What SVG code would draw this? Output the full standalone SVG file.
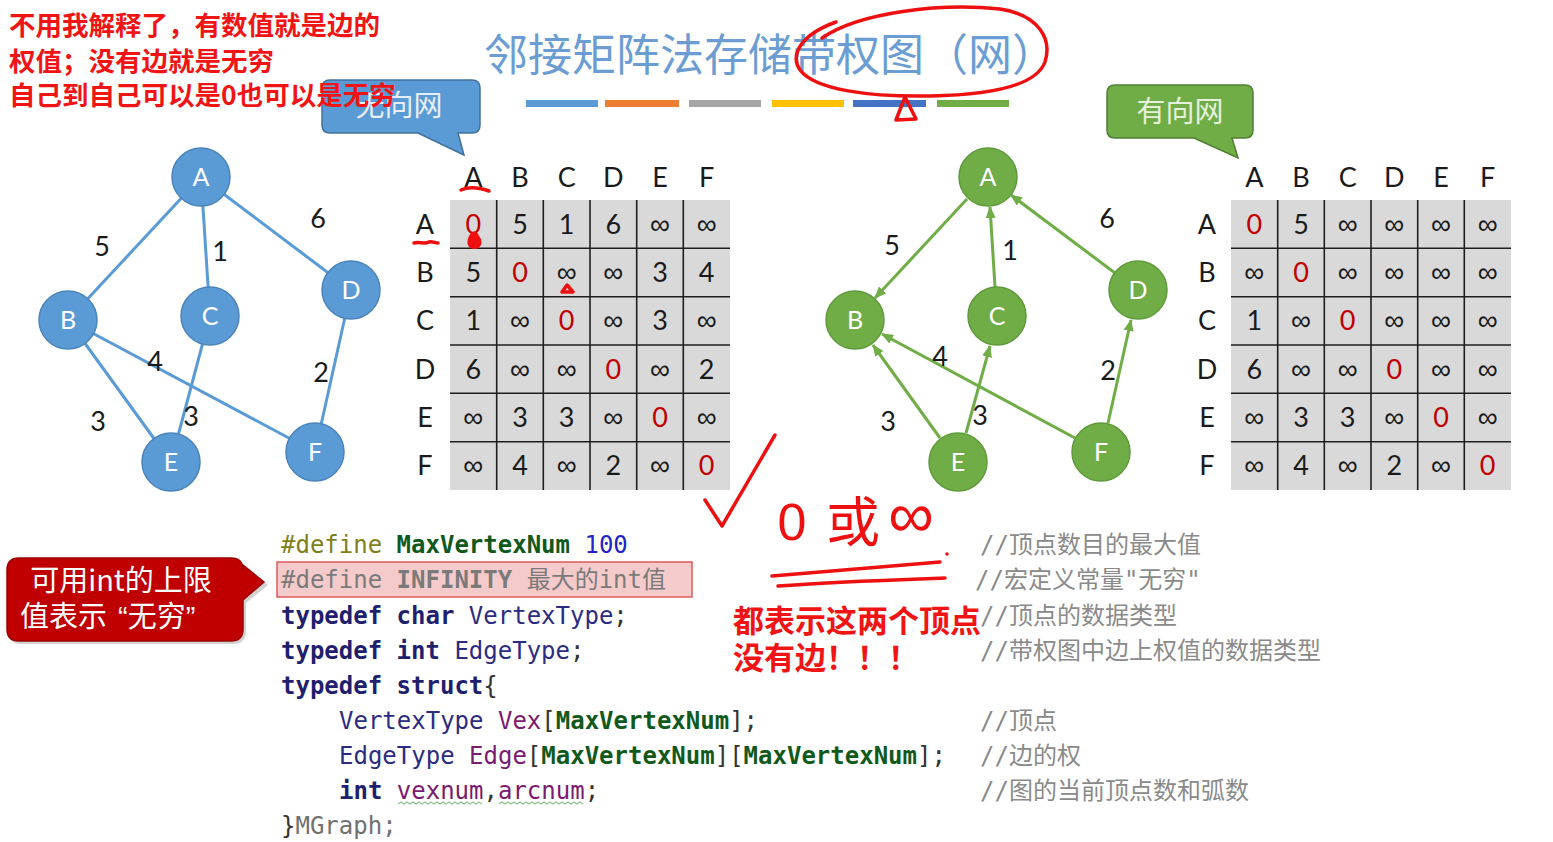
<svg xmlns="http://www.w3.org/2000/svg" width="1553" height="842" viewBox="0 0 1553 842">
<style>
.note{font-family:"Noto Sans CJK SC",sans-serif;font-weight:bold;fill:#f01414}
.title{font-family:"Noto Sans CJK SC",sans-serif;font-size:44px;fill:#6b9dd2}
.lbl{font-family:Lato,"Liberation Sans",sans-serif;font-size:27px;fill:#1a1a1a;text-anchor:middle}
.nodeb circle{fill:#5b9bd5;stroke:#4a84bb;stroke-width:1.5}
.nodeg circle{fill:#70ad47;stroke:#5f9a3b;stroke-width:1.5}
.nt{font-family:Lato,"Liberation Sans",sans-serif;font-size:25px;fill:#ffffff;text-anchor:middle}
.m{font-family:Lato,"Liberation Sans",sans-serif;font-size:27px;fill:#1a1a1a;text-anchor:middle}
.z{fill:#c00000}
.i{font-family:"Liberation Sans",sans-serif;font-size:28px}
.grid{stroke:#1e1e1e;stroke-width:1.6}
.code{font-family:"DejaVu Sans Mono","Noto Sans CJK SC",monospace;font-size:24px}
.cm{font-family:"DejaVu Sans Mono","Noto Sans CJK SC",monospace;font-size:24px;fill:#8a8a8a}
.kw{font-weight:bold;fill:#1f1f6e}
.ty{fill:#2b2b82}
.pu{fill:#7a1a70}
.gr{font-weight:bold;fill:#11591b}
.ol{fill:#7f7f1a}
.dk{fill:#333333}
.hand{fill:none;stroke:#ee1010;stroke-width:3.5;stroke-linecap:round;stroke-linejoin:round}
</style>
<defs>
<marker id="arrG" markerUnits="userSpaceOnUse" markerWidth="12" markerHeight="10" refX="11" refY="5" orient="auto">
<path d="M0,0 L12,5 L0,10 z" fill="#70ad47"/>
</marker>
</defs>
<rect width="1553" height="842" fill="#ffffff"/>

<!-- title -->
<g id="title">
<text class="title" x="484" y="71">邻接矩阵法存储带权图（网）</text>
<rect x="526" y="100" width="72" height="7" fill="#5b9bd5"/>
<rect x="605" y="100" width="74" height="7" fill="#ed7d31"/>
<rect x="689" y="100" width="72" height="7" fill="#a5a5a5"/>
<rect x="772" y="100" width="72" height="7" fill="#ffc000"/>
<rect x="853" y="100" width="73" height="7" fill="#4472c4"/>
<rect x="937" y="100" width="72" height="7" fill="#70ad47"/>
</g>

<!-- callouts -->
<g id="callout-undirected">
<path d="M330,80 H472 Q480,80 480,88 V125 Q480,133 472,133 H458 L464,155 L418,133 H330 Q322,133 322,125 V88 Q322,80 330,80 Z" fill="#5b9bd5" stroke="#41719c" stroke-width="1.5"/>
<text x="399" y="116" font-family="Noto Sans CJK SC,sans-serif" font-size="29" fill="#e6eef8" text-anchor="middle">无向网</text>
</g>
<g id="callout-directed">
<path d="M1115,85 H1245 Q1253,85 1253,93 V130 Q1253,138 1245,138 H1232 L1238,158 L1194,138 H1115 Q1107,138 1107,130 V93 Q1107,85 1115,85 Z" fill="#70ad47" stroke="#507e32" stroke-width="1.5"/>
<text x="1180" y="122" font-family="Noto Sans CJK SC,sans-serif" font-size="29" fill="#e6f0dc" text-anchor="middle">有向网</text>
</g>

<!-- top-left notes -->
<g id="note-top">
<text class="note" font-size="26.5" x="9" y="35">不用我解释了，有数值就是边的</text>
<text class="note" font-size="26.5" x="9" y="71">权值；没有边就是无穷</text>
<text class="note" font-size="26.5" x="9" y="105">自己到自己可以是0也可以是无穷</text>
</g>

<!-- left graph edges -->
<g id="edges-left" stroke="#5b9bd5" stroke-width="3" fill="none">
<line x1="201" y1="177" x2="68" y2="320"/>
<line x1="201" y1="177" x2="210" y2="316"/>
<line x1="201" y1="177" x2="351" y2="290"/>
<line x1="68" y1="320" x2="171" y2="462"/>
<line x1="68" y1="320" x2="315" y2="452"/>
<line x1="210" y1="316" x2="171" y2="462"/>
<line x1="351" y1="290" x2="315" y2="452"/>
</g>
<g id="labels-left">
<text class="lbl" x="102" y="256">5</text>
<text class="lbl" x="220" y="261">1</text>
<text class="lbl" x="318" y="228">6</text>
<text class="lbl" x="155" y="371">4</text>
<text class="lbl" x="321" y="382">2</text>
<text class="lbl" x="98" y="431">3</text>
<text class="lbl" x="191" y="426">3</text>
</g>
<g id="uA" class="nodeb"><circle cx="201" cy="177" r="29"/><text class="nt" x="201" y="186">A</text></g>
<g id="uB" class="nodeb"><circle cx="68" cy="320" r="29"/><text class="nt" x="68" y="329">B</text></g>
<g id="uC" class="nodeb"><circle cx="210" cy="316" r="29"/><text class="nt" x="210" y="325">C</text></g>
<g id="uD" class="nodeb"><circle cx="351" cy="290" r="29"/><text class="nt" x="351" y="299">D</text></g>
<g id="uE" class="nodeb"><circle cx="171" cy="462" r="29"/><text class="nt" x="171" y="471">E</text></g>
<g id="uF" class="nodeb"><circle cx="315" cy="452" r="29"/><text class="nt" x="315" y="461">F</text></g>

<!-- right graph edges -->
<g id="edges-right" stroke="#70ad47" stroke-width="3" fill="none" marker-end="url(#arrG)">
<line x1="967" y1="199" x2="875" y2="298"/>
<line x1="995" y1="287" x2="990" y2="207"/>
<line x1="1115" y1="273" x2="1011" y2="195"/>
<line x1="940" y1="438" x2="873" y2="345"/>
<line x1="1075" y1="438" x2="882" y2="334"/>
<line x1="966" y1="433" x2="990" y2="346"/>
<line x1="1108" y1="423" x2="1131" y2="320"/>
</g>
<g id="labels-right">
<text class="lbl" x="892" y="255">5</text>
<text class="lbl" x="1010" y="260">1</text>
<text class="lbl" x="1107" y="228">6</text>
<text class="lbl" x="940" y="366">4</text>
<text class="lbl" x="1108" y="380">2</text>
<text class="lbl" x="888" y="431">3</text>
<text class="lbl" x="980" y="425">3</text>
</g>
<g id="dA" class="nodeg"><circle cx="988" cy="177" r="29"/><text class="nt" x="988" y="186">A</text></g>
<g id="dB" class="nodeg"><circle cx="855" cy="320" r="29"/><text class="nt" x="855" y="329">B</text></g>
<g id="dC" class="nodeg"><circle cx="997" cy="316" r="29"/><text class="nt" x="997" y="325">C</text></g>
<g id="dD" class="nodeg"><circle cx="1138" cy="290" r="29"/><text class="nt" x="1138" y="299">D</text></g>
<g id="dE" class="nodeg"><circle cx="958" cy="462" r="29"/><text class="nt" x="958" y="471">E</text></g>
<g id="dF" class="nodeg"><circle cx="1101" cy="452" r="29"/><text class="nt" x="1101" y="461">F</text></g>

<!-- left matrix -->
<g id="matrix-left">
<rect x="450" y="200" width="280" height="290" fill="#d9d9d9"/>
<g class="grid">
<line x1="496.7" y1="200" x2="496.7" y2="490"/><line x1="543.3" y1="200" x2="543.3" y2="490"/><line x1="590" y1="200" x2="590" y2="490"/><line x1="636.7" y1="200" x2="636.7" y2="490"/><line x1="683.3" y1="200" x2="683.3" y2="490"/>
<line x1="450" y1="248.3" x2="730" y2="248.3"/><line x1="450" y1="296.7" x2="730" y2="296.7"/><line x1="450" y1="345" x2="730" y2="345"/><line x1="450" y1="393.3" x2="730" y2="393.3"/><line x1="450" y1="441.7" x2="730" y2="441.7"/>
</g>
<text class="m" y="187"><tspan x="473.3">A</tspan><tspan x="520">B</tspan><tspan x="566.7">C</tspan><tspan x="613.3">D</tspan><tspan x="660">E</tspan><tspan x="706.7">F</tspan></text>
<text class="m"><tspan x="425" y="234">A</tspan><tspan x="425" y="282">B</tspan><tspan x="425" y="330">C</tspan><tspan x="425" y="379">D</tspan><tspan x="425" y="427">E</tspan><tspan x="425" y="475">F</tspan></text>
<text class="m" y="233.7"><tspan class="z" x="473.3">0</tspan><tspan x="520">5</tspan><tspan x="566.7">1</tspan><tspan x="613.3">6</tspan><tspan class="i" x="660">∞</tspan><tspan class="i" x="706.7">∞</tspan></text>
<text class="m" y="282"><tspan x="473.3">5</tspan><tspan class="z" x="520">0</tspan><tspan class="i" x="566.7">∞</tspan><tspan class="i" x="613.3">∞</tspan><tspan x="660">3</tspan><tspan x="706.7">4</tspan></text>
<text class="m" y="330.3"><tspan x="473.3">1</tspan><tspan class="i" x="520">∞</tspan><tspan class="z" x="566.7">0</tspan><tspan class="i" x="613.3">∞</tspan><tspan x="660">3</tspan><tspan class="i" x="706.7">∞</tspan></text>
<text class="m" y="378.7"><tspan x="473.3">6</tspan><tspan class="i" x="520">∞</tspan><tspan class="i" x="566.7">∞</tspan><tspan class="z" x="613.3">0</tspan><tspan class="i" x="660">∞</tspan><tspan x="706.7">2</tspan></text>
<text class="m" y="427"><tspan class="i" x="473.3">∞</tspan><tspan x="520">3</tspan><tspan x="566.7">3</tspan><tspan class="i" x="613.3">∞</tspan><tspan class="z" x="660">0</tspan><tspan class="i" x="706.7">∞</tspan></text>
<text class="m" y="475.3"><tspan class="i" x="473.3">∞</tspan><tspan x="520">4</tspan><tspan class="i" x="566.7">∞</tspan><tspan x="613.3">2</tspan><tspan class="i" x="660">∞</tspan><tspan class="z" x="706.7">0</tspan></text>
</g>

<!-- right matrix -->
<g id="matrix-right">
<rect x="1231" y="200" width="280" height="290" fill="#d9d9d9"/>
<g class="grid">
<line x1="1277.7" y1="200" x2="1277.7" y2="490"/><line x1="1324.3" y1="200" x2="1324.3" y2="490"/><line x1="1371" y1="200" x2="1371" y2="490"/><line x1="1417.7" y1="200" x2="1417.7" y2="490"/><line x1="1464.3" y1="200" x2="1464.3" y2="490"/>
<line x1="1231" y1="248.3" x2="1511" y2="248.3"/><line x1="1231" y1="296.7" x2="1511" y2="296.7"/><line x1="1231" y1="345" x2="1511" y2="345"/><line x1="1231" y1="393.3" x2="1511" y2="393.3"/><line x1="1231" y1="441.7" x2="1511" y2="441.7"/>
</g>
<text class="m" y="187"><tspan x="1254.3">A</tspan><tspan x="1301">B</tspan><tspan x="1347.7">C</tspan><tspan x="1394.3">D</tspan><tspan x="1441">E</tspan><tspan x="1487.7">F</tspan></text>
<text class="m"><tspan x="1207" y="234">A</tspan><tspan x="1207" y="282">B</tspan><tspan x="1207" y="330">C</tspan><tspan x="1207" y="379">D</tspan><tspan x="1207" y="427">E</tspan><tspan x="1207" y="475">F</tspan></text>
<text class="m" y="233.7"><tspan class="z" x="1254.3">0</tspan><tspan x="1301">5</tspan><tspan class="i" x="1347.7">∞</tspan><tspan class="i" x="1394.3">∞</tspan><tspan class="i" x="1441">∞</tspan><tspan class="i" x="1487.7">∞</tspan></text>
<text class="m" y="282"><tspan class="i" x="1254.3">∞</tspan><tspan class="z" x="1301">0</tspan><tspan class="i" x="1347.7">∞</tspan><tspan class="i" x="1394.3">∞</tspan><tspan class="i" x="1441">∞</tspan><tspan class="i" x="1487.7">∞</tspan></text>
<text class="m" y="330.3"><tspan x="1254.3">1</tspan><tspan class="i" x="1301">∞</tspan><tspan class="z" x="1347.7">0</tspan><tspan class="i" x="1394.3">∞</tspan><tspan class="i" x="1441">∞</tspan><tspan class="i" x="1487.7">∞</tspan></text>
<text class="m" y="378.7"><tspan x="1254.3">6</tspan><tspan class="i" x="1301">∞</tspan><tspan class="i" x="1347.7">∞</tspan><tspan class="z" x="1394.3">0</tspan><tspan class="i" x="1441">∞</tspan><tspan class="i" x="1487.7">∞</tspan></text>
<text class="m" y="427"><tspan class="i" x="1254.3">∞</tspan><tspan x="1301">3</tspan><tspan x="1347.7">3</tspan><tspan class="i" x="1394.3">∞</tspan><tspan class="z" x="1441">0</tspan><tspan class="i" x="1487.7">∞</tspan></text>
<text class="m" y="475.3"><tspan class="i" x="1254.3">∞</tspan><tspan x="1301">4</tspan><tspan class="i" x="1347.7">∞</tspan><tspan x="1394.3">2</tspan><tspan class="i" x="1441">∞</tspan><tspan class="z" x="1487.7">0</tspan></text>
</g>

<!-- left red callout -->
<g id="callout-infinity">
<path d="M21,561 H233 Q246,561 246,574 V568 L268,585 L246,603 V631 Q246,644 233,644 H21 Q8,644 8,631 V574 Q8,561 21,561 Z" fill="#7f7f7f" opacity="0.35"/>
<path d="M19,558 H231 Q243,558 243,570 V565 L264,582 L243,600 V629 Q243,641 231,641 H19 Q7,641 7,629 V570 Q7,558 19,558 Z" fill="#c00000" stroke="#9a0000" stroke-width="1.5"/>
<text x="121" y="591" font-family="Noto Sans CJK SC,sans-serif" font-size="29" fill="#ffffff" text-anchor="middle">可用int的上限</text>
<text x="20" y="627" font-family="Liberation Sans,Noto Sans CJK SC,sans-serif" font-size="29" fill="#ffffff">值表示<tspan dx="11">“</tspan>无穷”</text>
</g>

<!-- code -->
<g id="code">
<rect x="277" y="562" width="415" height="35" fill="#f2b8b8" fill-opacity="0.75" stroke="#e05a5a" stroke-width="1.5"/>
<text class="code" x="281" y="553" xml:space="preserve"><tspan class="ol">#define </tspan><tspan class="gr">MaxVertexNum</tspan><tspan fill="#2323c8"> 100</tspan></text>
<text class="code" x="281" y="588" fill="#7a7a7a" xml:space="preserve">#define <tspan font-weight="bold">INFINITY</tspan> 最大的int值</text>
<text class="code" x="281" y="623.5" xml:space="preserve"><tspan class="kw">typedef char</tspan><tspan class="ty"> VertexType</tspan><tspan class="dk">;</tspan></text>
<text class="code" x="281" y="658.5" xml:space="preserve"><tspan class="kw">typedef int</tspan><tspan class="ty"> EdgeType</tspan><tspan class="dk">;</tspan></text>
<text class="code" x="281" y="694" xml:space="preserve"><tspan class="kw">typedef struct</tspan><tspan class="dk">{</tspan></text>
<text class="code" x="339" y="729" xml:space="preserve"><tspan class="ty">VertexType</tspan><tspan class="pu"> Vex</tspan><tspan class="dk">[</tspan><tspan class="gr">MaxVertexNum</tspan><tspan class="dk">];</tspan></text>
<text class="code" x="339" y="764" xml:space="preserve"><tspan class="ty">EdgeType</tspan><tspan class="pu"> Edge</tspan><tspan class="dk">[</tspan><tspan class="gr">MaxVertexNum</tspan><tspan class="dk">][</tspan><tspan class="gr">MaxVertexNum</tspan><tspan class="dk">];</tspan></text>
<text class="code" x="339" y="799" xml:space="preserve"><tspan class="kw">int</tspan><tspan class="pu"> vexnum</tspan><tspan class="dk">,</tspan><tspan class="pu">arcnum</tspan><tspan class="dk">;</tspan></text>
<text class="code" x="281" y="834" xml:space="preserve"><tspan class="dk">}</tspan><tspan fill="#707070">MGraph;</tspan></text>
<path d="M398,804 l3,-2 l3,2 l3,-2 l3,2 l3,-2 l3,2 l3,-2 l3,2 l3,-2 l3,2 l3,-2 l3,2 l3,-2 l3,2 l3,-2 l3,2 l3,-2 l3,2 l3,-2 l3,2 l3,-2 l3,2 l3,-2 l3,2 l3,-2 l3,2 l3,-2 l3,2 M499,804 l3,-2 l3,2 l3,-2 l3,2 l3,-2 l3,2 l3,-2 l3,2 l3,-2 l3,2 l3,-2 l3,2 l3,-2 l3,2 l3,-2 l3,2 l3,-2 l3,2 l3,-2 l3,2 l3,-2 l3,2 l3,-2 l3,2 l3,-2 l3,2 l3,-2 l3,2" fill="none" stroke="#8cc68c" stroke-width="1.2"/>
<text class="cm" x="980" y="553">//顶点数目的最大值</text>
<text class="cm" x="975" y="588">//宏定义常量"无穷"</text>
<text class="cm" x="980" y="623.5">//顶点的数据类型</text>
<text class="cm" x="980" y="658.5">//带权图中边上权值的数据类型</text>
<text class="cm" x="980" y="729">//顶点</text>
<text class="cm" x="980" y="764">//边的权</text>
<text class="cm" x="980" y="799">//图的当前顶点数和弧数</text>
</g>

<!-- handwritten annotations -->
<g id="annotations">
<path class="hand" d="M822,38 C860,12 940,3 1000,9 C1040,15 1052,40 1045,62 C1036,86 990,95 930,96 C870,97 815,90 800,70 C790,55 800,35 836,22"/>
<path class="hand" d="M905,97 L896,120 L916,119 Z"/>
<path class="hand" d="M461,190 C470,186 480,188 489,191" stroke-width="4.5"/>
<path class="hand" d="M414,243 C420,241 424,245 429,242 C432,241 435,243 438,243" stroke-width="3"/>
<path d="M469,236 C472,230 477,230 479,236 C483,240 482,248 476,249 C469,250 465,244 469,236 Z" fill="#ee1010"/>
<path class="hand" d="M567,285 L562,292 L573,292 Z" stroke-width="2.5"/>
<path class="hand" d="M705,500 L722,526 L775,435" stroke-width="4"/>
<text x="792" y="540" font-family="Liberation Sans,sans-serif" font-size="52" fill="#ee1010" text-anchor="middle">0</text>
<text x="853" y="542" font-family="Noto Sans CJK SC,sans-serif" font-size="54" fill="#ee1010" text-anchor="middle">或</text>
<text x="911" y="537" font-family="Liberation Sans,sans-serif" font-size="64" fill="#ee1010" text-anchor="middle">∞</text>
<path class="hand" d="M772,576 C820,572 880,567 940,562" stroke-width="3"/>
<path class="hand" d="M778,586 C830,582 890,580 945,578" stroke-width="3"/>
<circle cx="947" cy="554" r="1.8" fill="#ee1010"/>
<text class="note" font-size="31" x="733" y="632">都表示这两个顶点</text>
<text class="note" font-size="31" x="733" y="669">没有边！！！</text>
</g>
</svg>
